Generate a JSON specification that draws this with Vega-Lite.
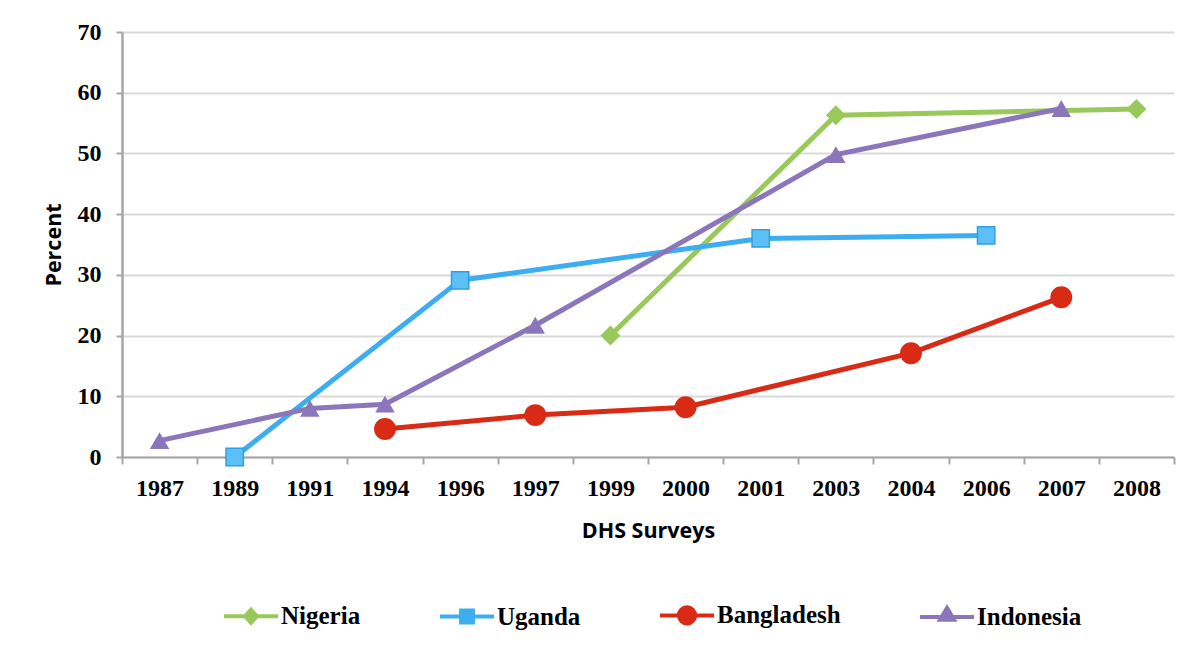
{
  "$schema": "https://vega.github.io/schema/vega-lite/v6.json",
  "width": 1052,
  "height": 425,
  "autosize": {"type": "none"},
  "padding": {"left": 122, "top": 32, "right": 26, "bottom": 188},
  "background": "white",
  "config": {
    "view": {"stroke": null},
    "axis": {
      "labelFont": "Liberation Serif",
      "labelFontWeight": "bold",
      "labelFontSize": 24,
      "labelColor": "#000000",
      "titleFont": "Open Sans",
      "titleFontWeight": "bold",
      "titleFontSize": 21.5,
      "titleColor": "#000000",
      "domainColor": "#a6a6a6",
      "tickColor": "#a6a6a6",
      "domainWidth": 2.5,
      "tickWidth": 2,
      "tickSize": 7
    }
  },
  "data": {
    "values": [
      {"country": "Nigeria", "year": "1999", "value": 20.0},
      {"country": "Nigeria", "year": "2003", "value": 56.3},
      {"country": "Nigeria", "year": "2008", "value": 57.3},
      {"country": "Uganda", "year": "1989", "value": 0.0},
      {"country": "Uganda", "year": "1996", "value": 29.1},
      {"country": "Uganda", "year": "2001", "value": 36.0},
      {"country": "Uganda", "year": "2006", "value": 36.5},
      {"country": "Bangladesh", "year": "1994", "value": 4.6},
      {"country": "Bangladesh", "year": "1997", "value": 6.9},
      {"country": "Bangladesh", "year": "2000", "value": 8.2},
      {"country": "Bangladesh", "year": "2004", "value": 17.1},
      {"country": "Bangladesh", "year": "2007", "value": 26.3},
      {"country": "Indonesia", "year": "1987", "value": 2.7},
      {"country": "Indonesia", "year": "1991", "value": 8.0},
      {"country": "Indonesia", "year": "1994", "value": 8.7},
      {"country": "Indonesia", "year": "1997", "value": 21.7},
      {"country": "Indonesia", "year": "2003", "value": 49.8},
      {"country": "Indonesia", "year": "2007", "value": 57.4}
    ]
  },
  "encoding": {
    "x": {
      "field": "year",
      "type": "nominal",
      "scale": {
        "type": "band",
        "domain": ["1987", "1989", "1991", "1994", "1996", "1997", "1999", "2000", "2001", "2003", "2004", "2006", "2007", "2008"],
        "paddingInner": 0,
        "paddingOuter": 0
      },
      "axis": {
        "title": "DHS Surveys",
        "labelAngle": 0,
        "tickBand": "extent",
        "labelPadding": 12,
        "titlePadding": 20,
        "domainWidth": 2
      }
    },
    "y": {
      "field": "value",
      "type": "quantitative",
      "scale": {"domain": [0, 70], "nice": false, "zero": true},
      "axis": {
        "title": "Percent",
        "values": [0, 10, 20, 30, 40, 50, 60, 70],
        "grid": true,
        "gridColor": "#d9d9d9",
        "gridWidth": 2,
        "tickSize": 6,
        "labelPadding": 15,
        "titlePadding": 12
      }
    }
  },
  "layer": [
    {
      "mark": {"type": "line", "strokeWidth": 5},
      "encoding": {
        "color": {
          "field": "country",
          "type": "nominal",
          "scale": {
            "domain": ["Nigeria", "Uganda", "Bangladesh", "Indonesia"],
            "range": ["#98c95a", "#3cadee", "#d92a16", "#8b76bb"]
          },
          "legend": {
            "title": null,
            "orient": "none",
            "direction": "horizontal",
            "legendX": 100,
            "legendY": 554,
            "padding": 0,
            "symbolSize": 2916,
            "symbolStrokeWidth": 4,
            "labelFont": "Liberation Serif",
            "labelFontWeight": "bold",
            "labelFontSize": 25,
            "labelColor": "#000000",
            "labelOffset": 1,
            "columnPadding": 71,
            "encode": {
              "symbols": {
                "update": {
                  "shape": {"signal": "datum.value === 'Nigeria' ? 'M-1,0H1M0,-0.24L0.22,0L0,0.24L-0.22,0Z' : datum.value === 'Uganda' ? 'M-1,0H1M-0.22,-0.22H0.22V0.22H-0.22Z' : datum.value === 'Bangladesh' ? 'M-1,0H1M-0.3,0A0.3,0.3,0,1,0,0.3,0A0.3,0.3,0,1,0,-0.3,0Z' : 'M-1,0H1M0,-0.34L0.26,0.1H-0.26Z'"},
                  "fill": {"scale": "color", "field": "value"},
                  "stroke": {"scale": "color", "field": "value"},
                  "strokeWidth": {"value": 4},
                  "opacity": {"value": 1}
                }
              }
            }
          }
        }
      }
    },
    {
      "transform": [{"filter": "datum.country === 'Nigeria'"}],
      "mark": {"type": "point", "shape": "diamond", "filled": true, "opacity": 1, "size": 400, "color": "#98c95a"}
    },
    {
      "transform": [{"filter": "datum.country === 'Uganda'"}],
      "mark": {"type": "point", "shape": "square", "filled": true, "opacity": 1, "size": 300, "fill": "#5cc0f6", "stroke": "#2f9fe0", "strokeWidth": 1.5}
    },
    {
      "transform": [{"filter": "datum.country === 'Bangladesh'"}],
      "mark": {"type": "point", "shape": "circle", "filled": true, "opacity": 1, "size": 480, "color": "#d92a16"}
    },
    {
      "transform": [{"filter": "datum.country === 'Indonesia'"}],
      "mark": {"type": "point", "shape": "triangle-up", "filled": true, "opacity": 1, "size": 380, "color": "#8b76bb"}
    }
  ]
}
